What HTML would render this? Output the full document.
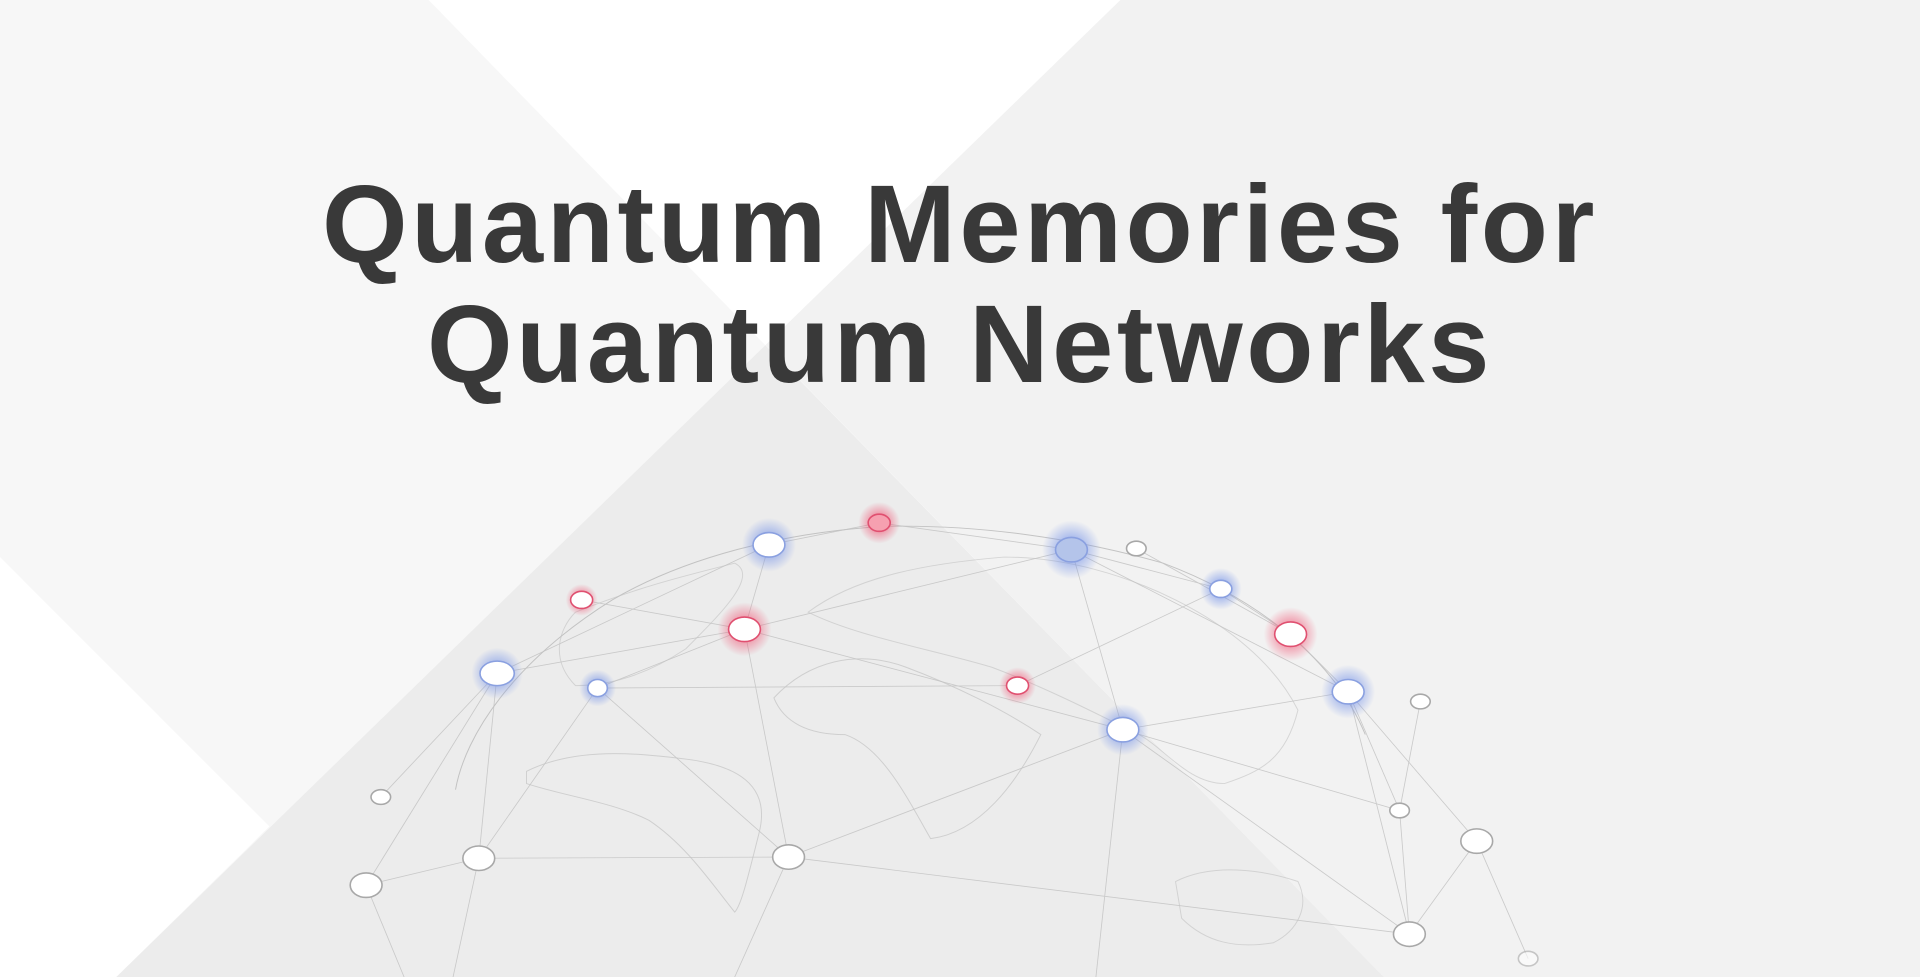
<!DOCTYPE html>
<html><head><meta charset="utf-8"><style>
html,body{margin:0;padding:0;width:1920px;height:977px;overflow:hidden;background:#fff}
svg{position:absolute;left:0;top:0}
h1{position:absolute;left:0;top:165px;width:1920px;margin:0;text-align:center;font-family:"Liberation Sans",sans-serif;font-weight:bold;font-size:110px;line-height:120px;letter-spacing:3.6px;color:#393939}
</style></head><body>
<svg width="1920" height="977" viewBox="0 0 1568 798" preserveAspectRatio="none">
<defs>
<radialGradient id="gb"><stop offset="0.4" stop-color="#6f8ee8" stop-opacity="0.55"/><stop offset="1" stop-color="#6f8ee8" stop-opacity="0"/></radialGradient>
<radialGradient id="gr"><stop offset="0.4" stop-color="#f05070" stop-opacity="0.55"/><stop offset="1" stop-color="#f05070" stop-opacity="0"/></radialGradient>
</defs>
<rect width="1568" height="798" fill="#f2f2f2"/>
<polygon points="0,0 350,0 1130,798 95,798 0,455" fill="#f7f7f7"/>
<polygon points="350,0 915,0 625,282" fill="#fff"/>
<polygon points="0,455 220,675 95,798 0,798" fill="#fff"/>
<polygon points="625,282 1130,798 95,798" fill="#ececec"/>
<g stroke="#b8b8b8" stroke-width="0.8" fill="none" opacity="0.8">
<path d="M372,645 C380,600 420,540 500,490 C560,455 640,435 720,430 C800,428 880,440 950,460 C1030,490 1090,540 1115,600"/>
<path d="M632,570 C660,540 700,530 740,545 C780,560 820,580 850,600 C830,640 800,680 760,685 C740,650 720,610 690,600 C660,600 640,590 632,570Z" opacity="0.7"/>
<path d="M430,630 C470,610 520,615 560,620 C600,625 630,640 620,680 C610,720 605,740 600,745 C580,720 560,690 530,670 C500,655 460,650 430,640Z" opacity="0.7"/>
<path d="M660,500 C700,470 760,460 820,455 C870,455 920,470 960,490 C1000,510 1040,540 1060,580 C1050,620 1030,630 1000,640 C970,640 950,610 930,600 C890,580 850,560 810,545 C760,530 700,520 660,500Z" opacity="0.6"/>
<path d="M960,720 C990,705 1030,710 1060,720 C1070,740 1060,760 1040,770 C1010,775 985,770 965,750Z" opacity="0.6"/>
<path d="M470,500 C520,480 560,470 600,460 C620,470 590,500 560,530 C530,550 500,560 470,560 C450,540 455,515 470,500Z" opacity="0.6"/>
</g>
<g stroke="#c4c4c4" stroke-width="0.7" opacity="0.85">
<line x1="628" y1="445" x2="718" y2="427"/><line x1="718" y1="427" x2="875" y2="449"/><line x1="875" y1="449" x2="997" y2="481"/>
<line x1="628" y1="445" x2="608" y2="514"/><line x1="608" y1="514" x2="406" y2="550"/><line x1="608" y1="514" x2="488" y2="562"/>
<line x1="608" y1="514" x2="875" y2="449"/><line x1="608" y1="514" x2="917" y2="596"/><line x1="608" y1="514" x2="644" y2="700"/>
<line x1="875" y1="449" x2="917" y2="596"/><line x1="875" y1="449" x2="1101" y2="565"/><line x1="997" y1="481" x2="1054" y2="518"/>
<line x1="1054" y1="518" x2="1101" y2="565"/><line x1="917" y1="596" x2="1101" y2="565"/><line x1="917" y1="596" x2="644" y2="700"/>
<line x1="917" y1="596" x2="1151" y2="763"/><line x1="917" y1="596" x2="895" y2="798"/><line x1="406" y1="550" x2="391" y2="701"/>
<line x1="406" y1="550" x2="299" y2="723"/><line x1="488" y1="562" x2="391" y2="701"/><line x1="488" y1="562" x2="644" y2="700"/>
<line x1="488" y1="562" x2="831" y2="560"/><line x1="391" y1="701" x2="644" y2="700"/><line x1="299" y1="723" x2="391" y2="701"/>
<line x1="311" y1="651" x2="406" y2="550"/><line x1="1101" y1="565" x2="1143" y2="662"/><line x1="1101" y1="565" x2="1206" y2="687"/>
<line x1="1160" y1="573" x2="1143" y2="662"/><line x1="1143" y1="662" x2="1151" y2="763"/><line x1="1206" y1="687" x2="1151" y2="763"/>
<line x1="1206" y1="687" x2="1248" y2="783"/><line x1="1101" y1="565" x2="1151" y2="763"/><line x1="475" y1="490" x2="608" y2="514"/>
<line x1="406" y1="550" x2="628" y2="445"/><line x1="831" y1="560" x2="997" y2="481"/><line x1="644" y1="700" x2="600" y2="798"/>
<line x1="391" y1="701" x2="370" y2="798"/><line x1="299" y1="723" x2="330" y2="798"/><line x1="928" y1="448" x2="1054" y2="518"/>
<line x1="644" y1="700" x2="1151" y2="763"/><line x1="1143" y1="662" x2="917" y2="596"/>
</g>
<g>
<circle cx="628" cy="445" r="22" fill="url(#gb)"/><circle cx="875" cy="449" r="24" fill="url(#gb)"/><circle cx="997" cy="481" r="17" fill="url(#gb)"/>
<circle cx="406" cy="550" r="21" fill="url(#gb)"/><circle cx="488" cy="562" r="15" fill="url(#gb)"/><circle cx="1101" cy="565" r="22" fill="url(#gb)"/><circle cx="917" cy="596" r="21" fill="url(#gb)"/>
<circle cx="718" cy="427" r="17" fill="url(#gr)"/><circle cx="475" cy="490" r="13" fill="url(#gr)"/><circle cx="608" cy="514" r="22" fill="url(#gr)"/>
<circle cx="1054" cy="518" r="22" fill="url(#gr)"/><circle cx="831" cy="560" r="15" fill="url(#gr)"/>
</g>
<g stroke-width="1.3">
<ellipse cx="628" cy="445" rx="13" ry="10" fill="#fff" stroke="#8aa0e0"/>
<ellipse cx="875" cy="449" rx="13" ry="10" fill="#b4c4ea" stroke="#8aa0e0"/>
<ellipse cx="997" cy="481" rx="9" ry="7" fill="#fff" stroke="#8aa0e0"/>
<ellipse cx="406" cy="550" rx="14" ry="10" fill="#fff" stroke="#8aa0e0"/>
<ellipse cx="488" cy="562" rx="8" ry="7" fill="#fff" stroke="#8aa0e0"/>
<ellipse cx="1101" cy="565" rx="13" ry="10" fill="#fff" stroke="#8aa0e0"/>
<ellipse cx="917" cy="596" rx="13" ry="10" fill="#fff" stroke="#8aa0e0"/>
<ellipse cx="718" cy="427" rx="9" ry="7" fill="#f6a0b0" stroke="#e05070"/>
<ellipse cx="475" cy="490" rx="9" ry="7" fill="#fff" stroke="#e05070"/>
<ellipse cx="608" cy="514" rx="13" ry="10" fill="#fff" stroke="#e05070"/>
<ellipse cx="1054" cy="518" rx="13" ry="10" fill="#fff" stroke="#e05070"/>
<ellipse cx="831" cy="560" rx="9" ry="7" fill="#fff" stroke="#e05070"/>
</g>
<g fill="#fff" stroke="#a8a8a8" stroke-width="1.3">
<ellipse cx="928" cy="448" rx="8" ry="6"/><ellipse cx="1160" cy="573" rx="8" ry="6"/><ellipse cx="311" cy="651" rx="8" ry="6"/>
<ellipse cx="1143" cy="662" rx="8" ry="6"/><ellipse cx="1206" cy="687" rx="13" ry="10"/><ellipse cx="391" cy="701" rx="13" ry="10"/>
<ellipse cx="644" cy="700" rx="13" ry="10"/><ellipse cx="299" cy="723" rx="13" ry="10"/><ellipse cx="1151" cy="763" rx="13" ry="10"/>
<ellipse cx="1248" cy="783" rx="8" ry="6" opacity="0.6"/>
</g>
</svg>
<h1>Quantum Memories for<br>Quantum Networks</h1>
</body></html>
